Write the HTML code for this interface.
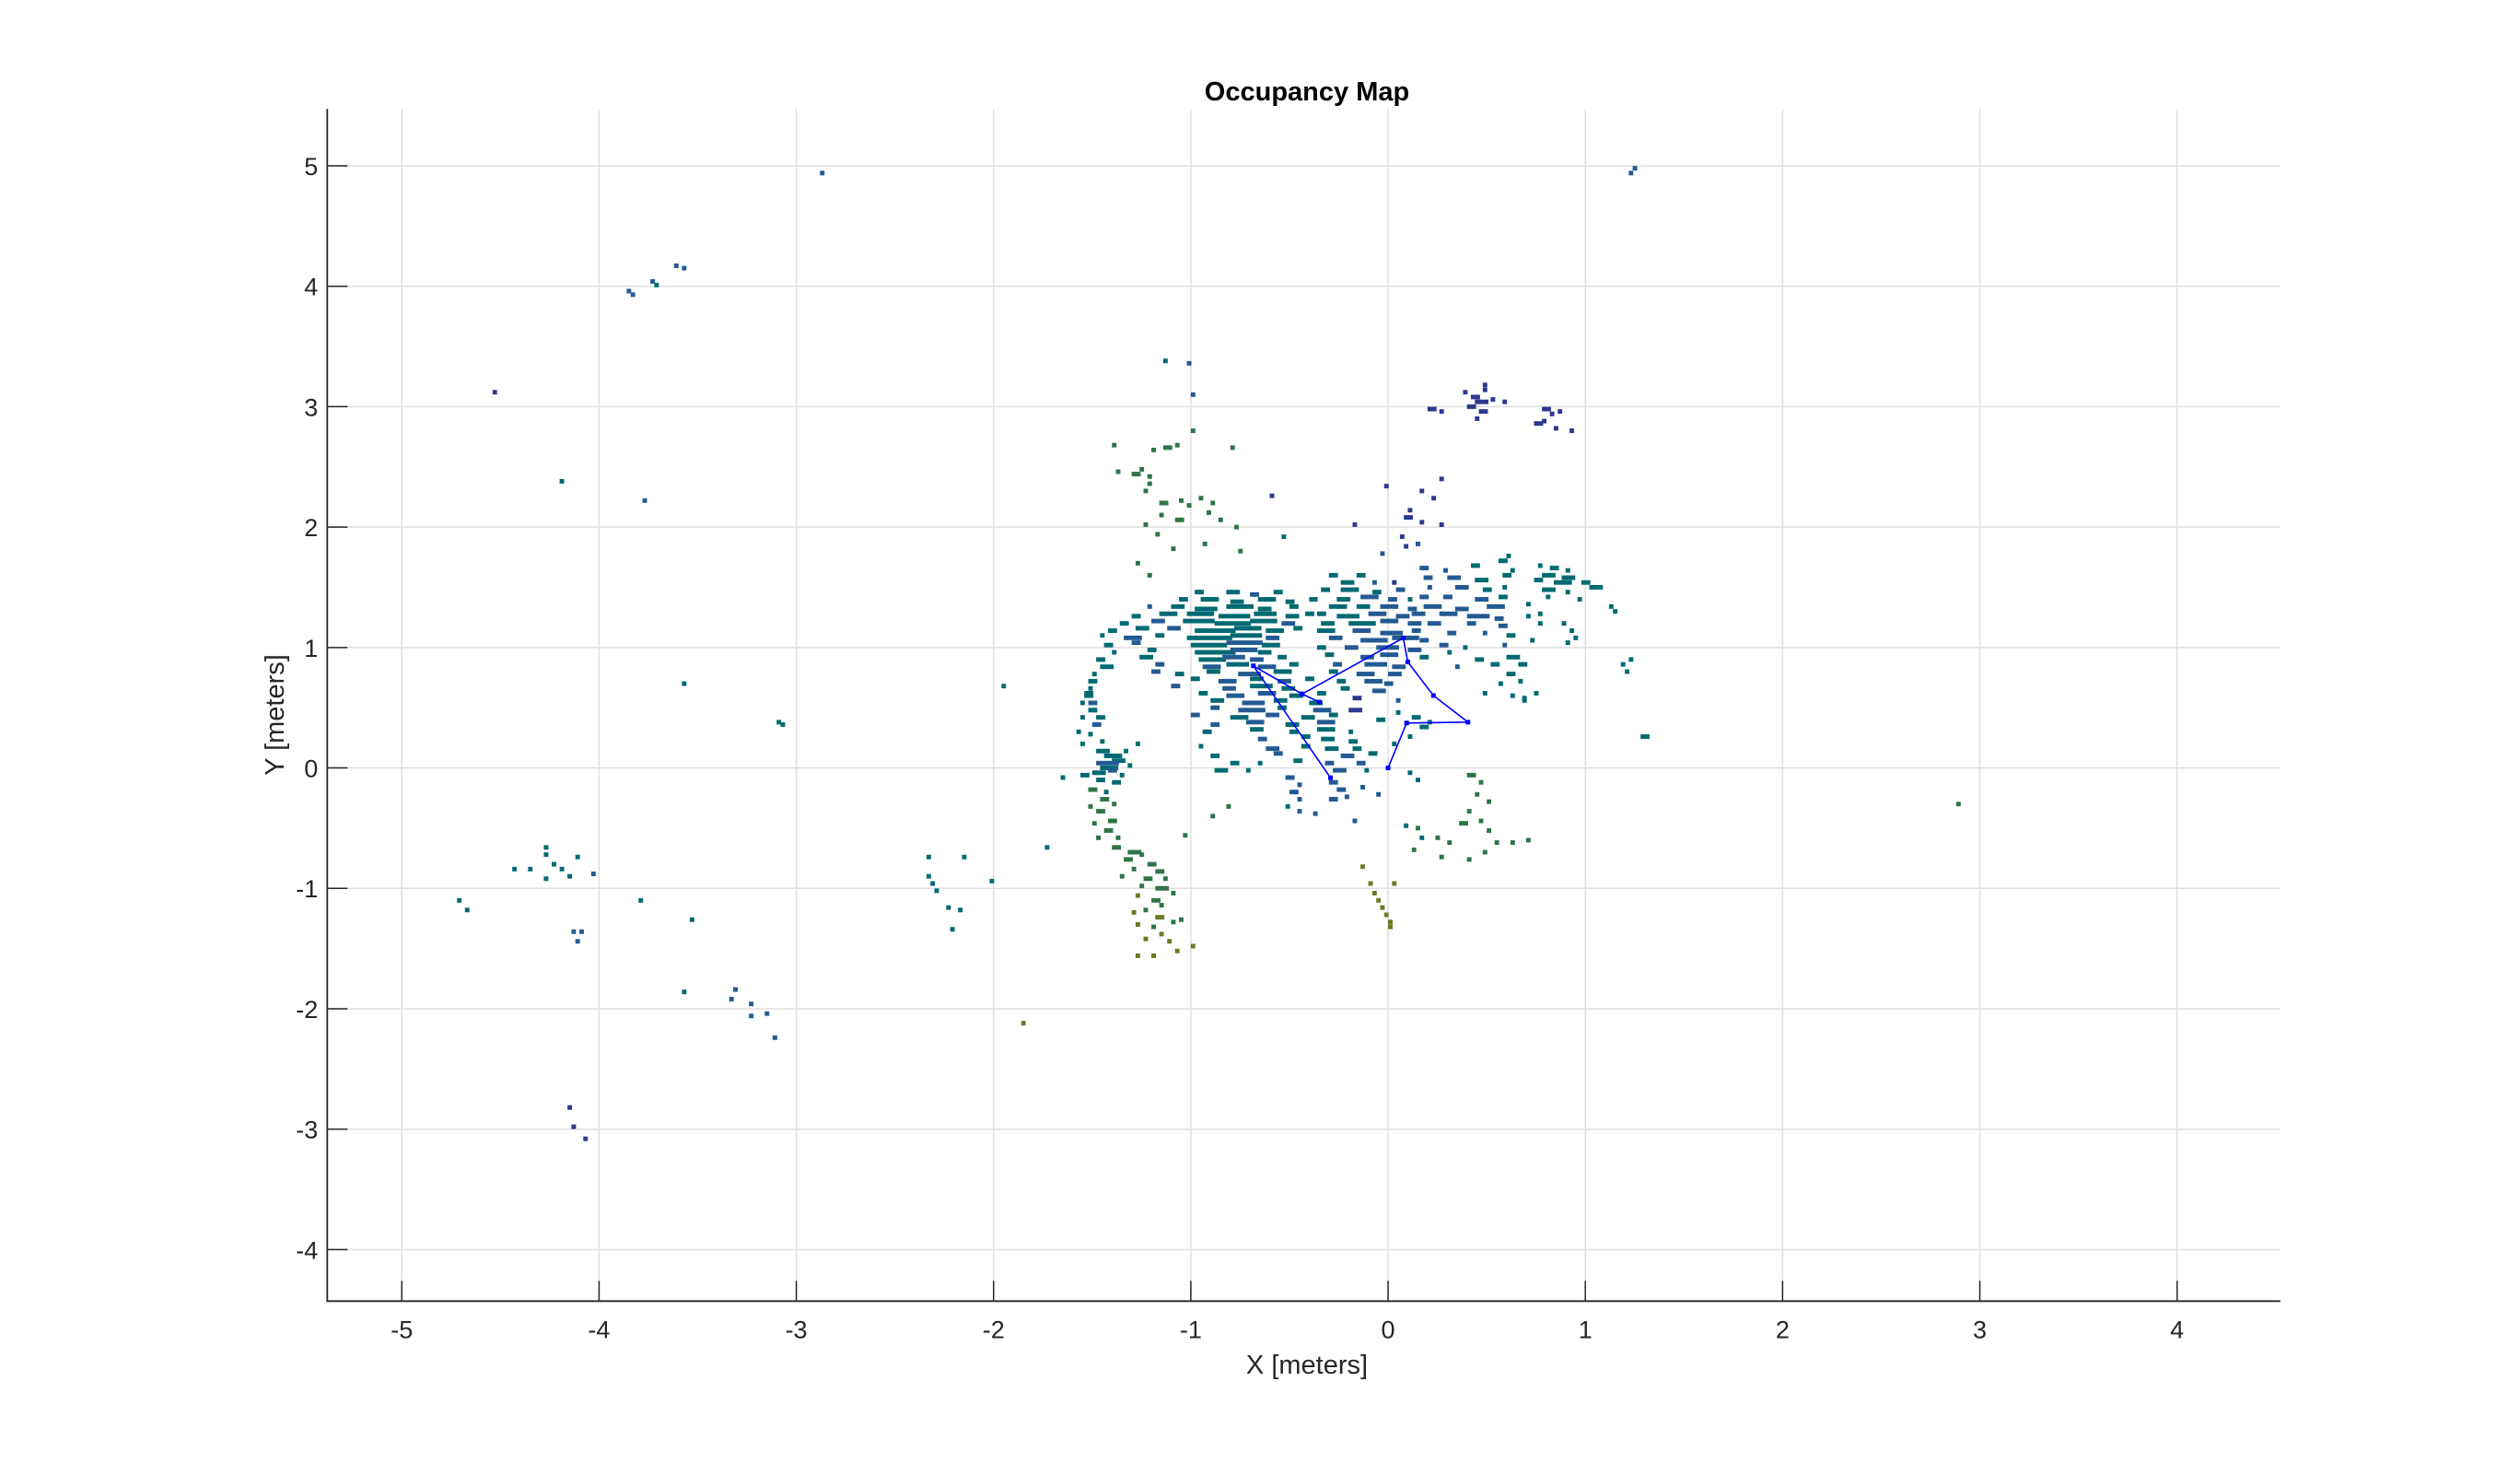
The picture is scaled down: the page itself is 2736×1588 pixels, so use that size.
<!DOCTYPE html>
<html><head><meta charset="utf-8"><style>
html,body{margin:0;padding:0;background:#fff;}
svg{display:block;font-family:"Liberation Sans",sans-serif;}
</style></head><body>
<svg id="chart" width="2736" height="1588" viewBox="0 0 2736 1588" xmlns="http://www.w3.org/2000/svg">
<rect x="0" y="0" width="2736" height="1588" fill="#fff"/>
<g id="grid"></g>
<g id="cells"></g>
<g id="path"></g>
<g id="axes"></g>
<text x="1419" y="109" text-anchor="middle" font-size="29" font-weight="bold" fill="#000">Occupancy Map</text>
<text x="1419" y="1491" text-anchor="middle" font-size="29" fill="#262626">X [meters]</text>
<text x="0" y="0" transform="translate(308,776) rotate(-90)" text-anchor="middle" font-size="29" fill="#262626">Y [meters]</text>
</svg>
<script>
const xTicks = [-5,-4,-3,-2,-1,0,1,2,3,4];
const yTicks = [-4,-3,-2,-1,0,1,2,3,4,5];
const xDomain = [-5.378, 4.523];
const yDomain = [-4.428, 5.472];
const cellColors = ["#006a72","#245a93","#2c388e","#2f7448","#6a7a26"];
// cells: [x, y, runLength(cells of 0.02m), colorClass]
const denseCells = [
[-0.98,1.46,2,0],[-0.82,1.46,3,0],[-0.70,1.44,2,1],[-0.58,1.46,2,0],
[-1.06,1.40,2,0],[-0.95,1.40,4,0],[-0.80,1.38,3,0],[-0.66,1.40,4,0],[-0.52,1.38,2,0],[-0.40,1.40,1,0],
[-1.22,1.34,1,1],[-1.10,1.34,3,0],[-0.98,1.32,5,0],[-0.82,1.34,6,0],[-0.66,1.32,3,0],[-0.50,1.34,2,0],
[-1.30,1.26,2,0],[-1.16,1.28,4,0],[-1.02,1.28,6,0],[-0.86,1.26,7,0],[-0.68,1.28,5,0],[-0.52,1.26,3,0],[-0.42,1.28,2,0],
[-1.36,1.20,2,0],[-1.20,1.22,3,1],[-1.04,1.22,7,0],[-0.88,1.20,8,0],[-0.70,1.22,6,0],[-0.54,1.20,3,1],
[-1.42,1.14,2,0],[-1.28,1.16,3,0],[-1.12,1.16,3,1],[-0.98,1.14,9,0],[-0.78,1.16,6,0],[-0.62,1.14,4,0],[-0.48,1.16,2,0],
[-1.46,1.10,1,0],[-1.34,1.08,4,1],[-1.18,1.10,2,0],[-1.02,1.08,10,0],[-0.80,1.10,7,0],[-0.62,1.08,3,1],
[-1.44,1.02,2,0],[-1.30,1.04,2,1],[-1.00,1.02,8,0],[-0.82,1.04,8,1],[-0.64,1.02,4,0],
[-1.40,0.96,1,0],[-1.22,0.98,2,0],[-0.98,0.96,9,0],[-0.80,0.98,6,1],[-0.66,0.96,3,0],
[-1.48,0.90,2,0],[-1.26,0.92,3,0],[-0.96,0.90,6,0],[-0.84,0.92,5,1],[-0.70,0.90,3,1],[-0.56,0.92,2,0],
[-1.46,0.84,3,0],[-1.18,0.86,2,1],[-0.94,0.84,4,1],[-0.82,0.86,5,0],[-0.66,0.84,4,1],[-0.50,0.86,2,0],
[-1.50,0.78,1,0],[-1.20,0.80,2,1],[-1.08,0.78,2,0],[-0.92,0.80,3,0],[-0.76,0.78,5,1],[-0.58,0.80,4,0],
[-1.52,0.72,2,0],[-1.00,0.74,2,0],[-0.86,0.72,4,1],[-0.70,0.74,3,0],[-0.56,0.72,3,1],[-0.42,0.74,2,0],
[-1.52,0.66,1,0],[-1.10,0.68,2,1],[-0.84,0.66,3,1],[-0.70,0.68,5,0],[-0.54,0.66,3,0],
[-1.54,0.60,2,0],[-0.96,0.62,2,0],[-0.82,0.60,4,1],[-0.66,0.62,4,1],[-0.50,0.60,3,0],[-0.36,0.62,2,0],
[-1.52,0.54,2,1],[-0.90,0.56,3,0],[-0.74,0.54,5,1],[-0.58,0.56,3,0],[-0.40,0.54,3,0],
[-1.50,0.48,1,0],[-0.90,0.50,2,1],[-0.76,0.48,6,1],[-0.56,0.50,2,0],[-0.38,0.48,4,1],
[-1.48,0.42,2,0],[-1.00,0.44,2,1],[-0.80,0.42,4,0],[-0.62,0.44,3,1],[-0.44,0.42,3,0],[-0.30,0.44,2,0],
[-0.90,0.36,2,1],[-0.72,0.38,4,1],[-0.52,0.36,3,0],[-0.36,0.38,4,1],
[-0.94,0.30,2,0],[-0.70,0.32,3,0],[-0.50,0.30,2,0],[-0.36,0.32,4,0],[-0.20,0.30,1,0],
[-0.66,0.24,2,1],[-0.44,0.26,2,0],[-0.34,0.24,3,0],[-0.20,0.22,2,0],
[-0.96,0.18,1,0],[-0.62,0.16,3,1],[-0.44,0.18,2,0],[-0.32,0.16,3,0],[-0.18,0.16,2,0],
[-0.90,0.10,2,0],[-0.58,0.12,2,1],[-0.24,0.10,3,1],
[-0.80,0.04,2,0],[-0.66,0.04,1,0],[-0.48,0.06,2,0],[-0.32,0.04,2,1],[-0.16,0.04,2,1],
[-0.88,-0.02,3,0],[-0.72,-0.02,1,0],[-0.28,-0.02,3,1],[-0.12,-0.02,1,0],[-0.52,-0.08,2,1],[-0.46,-0.14,1,1],[-0.50,-0.20,2,1],[-0.46,-0.26,1,1],[-0.30,-0.12,2,1],[-0.26,-0.18,2,1],[-0.22,-0.24,1,1],[-0.30,-0.26,2,1],[-0.14,-0.16,1,1],[-0.46,-0.36,1,1],[-0.38,-0.38,1,1],[-0.18,-0.44,1,1],[-0.06,-0.22,1,1]
];
const middleCells = [
[-0.30,1.60,2,0],[-0.16,1.60,2,0],[-0.24,1.54,3,0],[-0.08,1.54,1,1],[0.02,1.54,1,2],
[-0.34,1.48,2,0],[-0.24,1.48,4,0],[-0.08,1.46,2,0],[0.04,1.48,2,1],
[-0.38,1.40,1,0],[-0.26,1.40,3,0],[-0.14,1.42,4,1],[0.00,1.40,2,1],[0.10,1.40,1,0],
[-0.30,1.34,4,0],[-0.16,1.34,3,0],[-0.04,1.34,4,1],[0.10,1.32,2,1],
[-0.36,1.28,2,0],[-0.26,1.26,5,0],[-0.10,1.28,4,1],[0.04,1.26,3,1],
[-0.34,1.20,3,0],[-0.20,1.20,6,0],[-0.04,1.22,4,1],[0.10,1.20,3,1],
[-0.36,1.14,4,0],[-0.18,1.14,4,1],[-0.04,1.12,5,1],[0.12,1.14,2,1],
[-0.30,1.08,3,1],[-0.14,1.06,6,1],[0.02,1.08,6,1],[0.16,1.06,2,1],
[-0.36,1.00,2,0],[-0.22,1.00,3,1],[-0.06,1.00,5,1],[0.10,0.98,3,1],
[-0.32,0.94,2,0],[-0.14,0.92,3,1],[-0.04,0.94,4,1],[0.16,0.92,2,0],
[-0.28,0.86,2,1],[-0.12,0.86,5,1],[0.02,0.84,3,1],
[-0.30,0.80,2,0],[-0.16,0.78,4,1],[0.00,0.78,3,1],
[-0.26,0.72,2,0],[-0.12,0.72,4,1],[-0.02,0.70,2,1],
[-0.24,0.66,2,0],[-0.08,0.64,3,1],
[-0.18,0.58,2,2],[0.04,0.56,1,1],
[-0.20,0.48,3,2],[-0.06,0.40,2,0],[0.04,0.46,1,0],[0.12,0.42,2,0],[0.16,0.34,2,0],[0.10,0.26,1,0],[0.20,0.38,1,0],[0.02,0.20,1,0],[-0.10,0.12,2,0]
];
const rightCells = [
[0.16,1.66,2,1],[0.28,1.64,1,1],[0.42,1.68,2,0],[0.56,1.72,2,0],[0.60,1.76,1,0],
[0.18,1.58,2,1],[0.30,1.58,3,1],[0.44,1.56,3,0],[0.58,1.60,2,0],[0.62,1.64,1,0],
[0.20,1.50,1,1],[0.34,1.50,3,1],[0.48,1.48,2,0],[0.58,1.50,1,0],
[0.16,1.42,2,1],[0.28,1.42,2,1],[0.44,1.40,3,1],[0.56,1.42,2,0],
[0.18,1.34,4,1],[0.34,1.32,3,1],[0.50,1.34,4,1],
[0.12,1.28,3,1],[0.26,1.28,4,1],[0.40,1.26,5,1],[0.54,1.24,2,1],
[0.20,1.20,3,1],[0.40,1.20,2,1],[0.56,1.18,2,1],[0.70,1.26,1,0],
[0.30,1.12,2,1],[0.48,1.12,1,1],[0.60,1.10,2,0],[0.72,1.06,1,0],
[0.26,1.02,2,1],[0.38,1.00,1,0],[0.58,1.02,1,1],
[0.30,0.96,1,0],[0.44,0.90,2,0],[0.60,0.92,3,0],[0.66,0.86,2,0],
[0.34,0.84,1,1],[0.52,0.86,2,0],[0.60,0.78,2,0],[0.66,0.72,1,0],
[0.56,0.70,1,0],[0.62,0.60,1,0],[0.68,0.58,1,0],[0.48,0.62,1,0],
[0.76,1.68,1,0],[0.82,1.66,2,0],[0.90,1.64,1,0],[0.78,1.60,3,0],[0.88,1.58,3,0],[0.74,1.56,2,0],[0.84,1.54,4,0],[0.98,1.54,2,0],[1.02,1.50,3,0],[0.78,1.48,3,0],[0.90,1.46,1,0],[0.80,1.42,1,0],[0.96,1.40,1,0],[1.12,1.34,1,0],[1.14,1.30,1,0],[0.70,1.36,1,0],[0.76,1.28,1,0],[0.88,1.20,1,0],[0.92,1.14,1,0],[0.76,1.20,1,0],[0.94,1.08,1,0],[0.90,1.04,1,0],
[1.18,0.86,1,0],[1.22,0.90,1,0],[1.20,0.80,1,0],[1.28,0.26,2,0],[0.74,0.62,1,0],[0.68,0.56,1,0]
];
const navyCells = [
[0.20,2.98,2,2],[0.26,2.96,1,2],[0.38,3.12,1,2],[0.42,3.08,2,2],[0.44,3.04,3,2],[0.40,3.00,2,2],[0.48,3.14,1,2],[0.46,2.96,2,2],[0.52,3.06,1,2],[0.58,3.04,1,2],[0.44,2.90,1,2],[0.48,3.18,1,2],[0.78,2.98,2,2],[0.82,2.94,1,2],[0.78,2.88,1,2],[0.74,2.86,2,2],[0.84,2.82,1,2],[0.92,2.80,1,2],[0.86,2.96,1,2],
[-0.02,2.34,1,2],[0.16,2.30,1,2],[0.26,2.40,1,2],[0.22,2.24,1,2],[0.10,2.14,1,2],[0.08,2.08,2,2],[0.16,2.04,1,2],[0.26,2.02,1,2],[-0.18,2.02,1,2],[0.06,1.92,1,2],[0.08,1.84,1,2],[-0.04,1.78,1,1],[0.14,1.86,1,1]
];
const greenCells = [
[-1.40,2.68,1,3],[-1.20,2.64,1,3],[-1.14,2.66,2,3],[-1.08,2.68,1,3],[-1.00,2.80,1,3],[-1.26,2.48,1,3],[-1.30,2.44,2,3],[-1.22,2.42,1,3],[-1.22,2.36,1,3],[-1.24,2.30,1,3],[-1.38,2.46,1,3],[-1.16,2.20,2,3],[-1.06,2.22,1,3],[-1.02,2.18,1,3],[-0.96,2.24,1,3],[-0.90,2.20,1,3],[-1.16,2.10,1,3],[-1.08,2.06,2,3],[-1.24,2.02,1,3],[-1.18,1.94,1,3],[-0.92,2.12,1,3],[-0.86,2.06,1,3],[-0.80,2.66,1,3],[-0.60,2.26,1,2],[-0.78,2.00,1,3],[-0.94,1.86,1,3],[-0.76,1.80,1,3],[-0.54,1.92,1,0],[-1.10,1.82,1,3],[-1.22,1.60,1,3],[-1.28,1.70,1,3],
[-1.14,3.38,1,0],[-1.02,3.36,1,1],[-1.00,3.10,1,1],
[-1.54,0.62,2,0],[-1.56,0.54,1,0],[-1.52,0.48,2,0],[-1.56,0.42,1,0],[-1.50,0.36,2,1],[-1.52,0.28,1,0],[-1.56,0.20,1,0],[-1.46,0.22,1,0],[-1.48,0.14,3,0],[-1.44,0.10,4,0],[-1.40,0.06,3,0],[-1.48,0.04,5,1],[-1.46,0.00,4,0],[-1.50,-0.04,3,0],[-1.42,-0.02,2,1],[-1.56,-0.06,2,0],[-1.48,-0.10,2,0],[-1.40,-0.12,2,0],[-1.52,-0.18,2,3],[-1.44,-0.20,1,0],[-1.46,-0.26,2,3],[-1.52,-0.32,1,3],[-1.40,-0.30,1,3],[-1.48,-0.36,2,3],[-1.42,-0.44,2,3],[-1.50,-0.46,1,3],[-1.44,-0.52,2,3],[-1.48,-0.58,1,3],[-1.38,-0.58,1,3],[-1.66,-0.08,1,0],[-1.34,0.14,1,0],[-1.32,0.02,1,0],[-1.36,-0.06,1,0],[-1.58,0.30,1,0],[-1.28,0.20,1,0],
[-1.40,-0.66,2,3],[-1.32,-0.70,3,3],[-1.26,-0.72,1,3],[-1.34,-0.76,2,3],[-1.22,-0.80,2,3],[-1.30,-0.84,1,3],[-1.18,-0.86,2,3],[-1.36,-0.90,1,3],[-1.24,-0.92,2,3],[-1.14,-0.92,1,3],[-1.26,-0.98,1,3],[-1.18,-1.00,3,3],[-1.10,-1.04,1,3],[-1.28,-1.06,1,4],[-1.20,-1.10,2,3],[-1.16,-1.14,1,3],[-1.24,-1.18,1,3],[-1.18,-1.24,2,4],[-1.10,-1.28,1,3],[-1.28,-1.30,1,4],[-1.20,-1.32,1,3],[-1.16,-1.38,1,4],[-1.24,-1.42,1,4],[-1.12,-1.44,1,4],[-1.28,-1.56,1,4],[-1.20,-1.56,1,4],[-1.08,-1.52,1,4],[-1.00,-1.48,1,4],[-1.06,-1.26,1,3],[-1.30,-1.20,1,4],
[-0.90,-0.40,1,3],[-0.82,-0.32,1,3],[-1.04,-0.56,1,3],
[-0.14,-0.82,1,4],[-0.10,-0.96,1,4],[-0.08,-1.04,1,4],[-0.06,-1.10,1,4],[-0.04,-1.16,1,4],[-0.02,-1.22,1,4],[0.00,-1.28,1,4],[0.00,-1.32,1,4],[0.02,-0.96,1,4],
[0.10,-0.04,1,0],[0.14,-0.10,1,0],[0.40,-0.06,2,3],[0.46,-0.12,1,3],[0.44,-0.22,1,3],[0.50,-0.28,1,3],[0.40,-0.36,1,3],[0.46,-0.44,1,3],[0.36,-0.46,2,3],[0.50,-0.52,1,3],[0.54,-0.62,1,3],[0.62,-0.62,1,3],[0.48,-0.70,1,3],[0.40,-0.76,1,3],[0.26,-0.74,1,3],[0.16,-0.58,1,0],[0.08,-0.48,1,0],[0.14,-0.50,1,3],[0.24,-0.58,1,3],[0.70,-0.60,1,3],[0.30,-0.62,1,3],[0.12,-0.68,1,3]
];
const outlierCells = [
[-2.88,4.94,1,1],[1.22,4.94,1,1],[1.24,4.98,1,1],[-3.86,3.96,1,1],[-3.84,3.93,1,1],[-3.74,4.04,1,1],[-3.72,4.01,1,0],[-3.62,4.17,1,1],[-3.58,4.15,1,1],[-4.54,3.12,1,2],[-4.20,2.38,1,0],[-3.78,2.22,1,1],[-3.58,0.70,1,0],[-3.10,0.38,1,0],[-3.08,0.36,1,0],[-1.96,0.68,1,0],[2.88,-0.30,1,3],
[-4.72,-1.10,1,0],[-4.68,-1.18,1,0],[-4.44,-0.84,1,0],[-4.36,-0.84,1,0],[-4.28,-0.66,1,0],[-4.28,-0.72,1,0],[-4.24,-0.80,1,0],[-4.20,-0.84,1,0],[-4.28,-0.92,1,0],[-4.16,-0.90,1,0],[-4.12,-0.74,1,0],[-4.04,-0.88,1,1],[-4.14,-1.36,1,1],[-4.10,-1.36,1,1],[-4.12,-1.44,1,1],[-3.80,-1.10,1,0],[-3.54,-1.26,1,0],[-3.58,-1.86,1,0],[-3.32,-1.84,1,1],[-3.34,-1.92,1,1],[-3.24,-1.96,1,1],[-3.24,-2.06,1,1],[-3.16,-2.04,1,1],[-3.12,-2.24,1,1],[-4.16,-2.82,1,2],[-4.14,-2.98,1,2],[-4.08,-3.08,1,2],
[-2.34,-0.74,1,0],[-2.34,-0.90,1,0],[-2.32,-0.96,1,0],[-2.30,-1.02,1,0],[-2.16,-0.74,1,0],[-2.24,-1.16,1,0],[-2.18,-1.18,1,0],[-2.22,-1.34,1,0],[-2.02,-0.94,1,0],[-1.74,-0.66,1,0],[-1.86,-2.12,1,4],[-0.52,-0.32,1,0]
];
const pathX = [-0.292,-0.683,-0.436,-0.349,-0.436,0.077,0.100,0.230,0.405,0.094,0.0];
const pathY = [-0.082,0.848,0.614,0.547,0.614,1.079,0.880,0.601,0.380,0.373,0.0];

const L=355.3, R=2475.7, T=118.3, B=1412.3;
const sx = v => L + (v - xDomain[0]) / (xDomain[1]-xDomain[0]) * (R-L);
const sy = v => B - (v - yDomain[0]) / (yDomain[1]-yDomain[0]) * (B-T);
const NS="http://www.w3.org/2000/svg";
function mk(tag, attrs, parent){const e=document.createElementNS(NS,tag);for(const k in attrs)e.setAttribute(k,attrs[k]);parent.appendChild(e);return e;}
const grid=document.getElementById('grid'), cellsG=document.getElementById('cells'), pathG=document.getElementById('path'), axes=document.getElementById('axes');
xTicks.forEach(t=>{
  const gl=mk('line',{x1:sx(t),x2:sx(t),y1:T,y2:B,stroke:'#dfdfdf','stroke-width':1.5},grid);
  
  
  const tk=mk('line',{x1:sx(t),x2:sx(t),y1:B,y2:B-22,stroke:'#262626','stroke-width':1.5},axes);
  
  
  const tx=mk('text',{x:sx(t),y:B+40,'text-anchor':'middle','font-size':27,fill:'#262626'},axes);
  tx.textContent=String(t);
  
  
});
yTicks.forEach(t=>{
  const gl=mk('line',{x1:L,x2:R,y1:sy(t),y2:sy(t),stroke:'#dfdfdf','stroke-width':1.5},grid);
  
  
  const tk=mk('line',{x1:L,x2:L+22,y1:sy(t),y2:sy(t),stroke:'#262626','stroke-width':1.5},axes);
  
  
  const tx=mk('text',{x:L-10,y:sy(t)+10,'text-anchor':'end','font-size':27,fill:'#262626'},axes);
  tx.textContent=String(t);
  
  
});
const axL=mk('path',{d:`M${L},${T} L${L},${B} L${R},${B}`,fill:'none',stroke:'#262626','stroke-width':1.8},axes);


const cw = 0.02/(xDomain[1]-xDomain[0])*(R-L)*1.15, ch = 0.02/(yDomain[1]-yDomain[0])*(B-T)*1.9;
[denseCells,middleCells,rightCells,navyCells,greenCells,outlierCells].forEach(arr=>arr.forEach(c=>{
  const r=mk('rect',{x:sx(c[0]),y:sy(c[1])-ch/2,width:cw*c[2],height:ch,fill:cellColors[c[3]]},cellsG);
  
  
}));
const pts=pathX.map((x,i)=>sx(x)+','+sy(pathY[i])).join(' ');
const pl=mk('polyline',{points:pts,fill:'none',stroke:'#0000ff','stroke-width':1.6},pathG);


pathX.forEach((x,i)=>{
  const m=mk('rect',{x:sx(x)-2.5,y:sy(pathY[i])-2.5,width:5,height:5,fill:'#0000ff'},pathG);
  
  
});
</script>
</body></html>
